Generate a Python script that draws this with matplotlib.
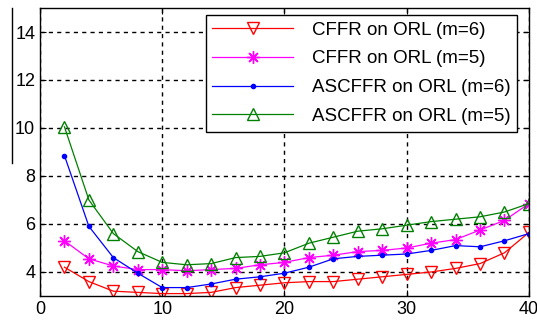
import matplotlib
matplotlib.use("Agg")
import matplotlib.pyplot as plt
from matplotlib.lines import Line2D

plt.rcParams['font.family'] = ['Liberation Sans', 'DejaVu Sans']

x = list(range(2, 41, 2))
cffr_m6 = [4.2, 3.6, 3.2, 3.15, 3.1, 3.1, 3.15, 3.35, 3.45, 3.55, 3.6, 3.6, 3.7, 3.8, 3.9, 4.0, 4.15, 4.35, 4.8, 5.65]
cffr_m5 = [5.3, 4.55, 4.25, 4.1, 4.1, 4.05, 4.1, 4.15, 4.3, 4.4, 4.6, 4.7, 4.85, 4.9, 5.0, 5.2, 5.35, 5.75, 6.15, 6.85]
ascffr_m6 = [8.85, 5.9, 4.6, 3.95, 3.35, 3.35, 3.5, 3.7, 3.8, 3.95, 4.2, 4.55, 4.65, 4.7, 4.75, 4.9, 5.1, 5.05, 5.3, 5.6]
ascffr_m5 = [10.05, 7.0, 5.6, 4.85, 4.4, 4.3, 4.35, 4.6, 4.65, 4.8, 5.2, 5.45, 5.7, 5.8, 5.95, 6.1, 6.2, 6.3, 6.5, 6.85]
labels = ["CFFR on ORL (m=6)", "CFFR on ORL (m=5)", "ASCFFR on ORL (m=6)", "ASCFFR on ORL (m=5)"]
xticks = [0, 10, 20, 30, 40]
yticks = [4, 6, 8, 10, 12, 14]

fig = plt.figure(figsize=(5.37, 3.28), dpi=100)
ax = fig.add_axes([0.0745, 0.0976, 0.9105, 0.878])

ax.plot(x, cffr_m6, color='red', marker='v', mfc='none', ms=8, lw=0.9, label=labels[0])
ax.plot(x, cffr_m5, color='magenta', marker=(8, 2, 0), ms=9, mew=1, lw=0.9, label=labels[1])
ax.plot(x, ascffr_m6, color='blue', marker='.', ms=6, lw=0.9, label=labels[2])
ax.plot(x, ascffr_m5, color='green', marker='^', mfc='none', ms=8, lw=0.9, label=labels[3])

ax.set_xlim(0, 40)
ax.set_ylim(3, 15)
ax.set_xticks(xticks)
ax.set_yticks(yticks)
ax.tick_params(direction='in', top=True, right=True, labelsize=13, length=4)
ax.grid(True, color='black', linestyle=(0, (3, 3)), linewidth=1)
for s in ax.spines.values():
    s.set_linewidth(1)

leg = ax.legend(loc='upper right', bbox_to_anchor=(0.9755, 0.9757), fontsize=13.5, fancybox=False,
                framealpha=1, edgecolor='black', handlelength=4.3, handletextpad=1.0,
                borderpad=0.35, labelspacing=0.62, borderaxespad=0)
leg.get_frame().set_linewidth(1)

fig.add_artist(Line2D([12/537, 12/537], [1 - 8/328, 1 - 163/328], color='black', lw=1))

fig.savefig("out.png", dpi=100)
